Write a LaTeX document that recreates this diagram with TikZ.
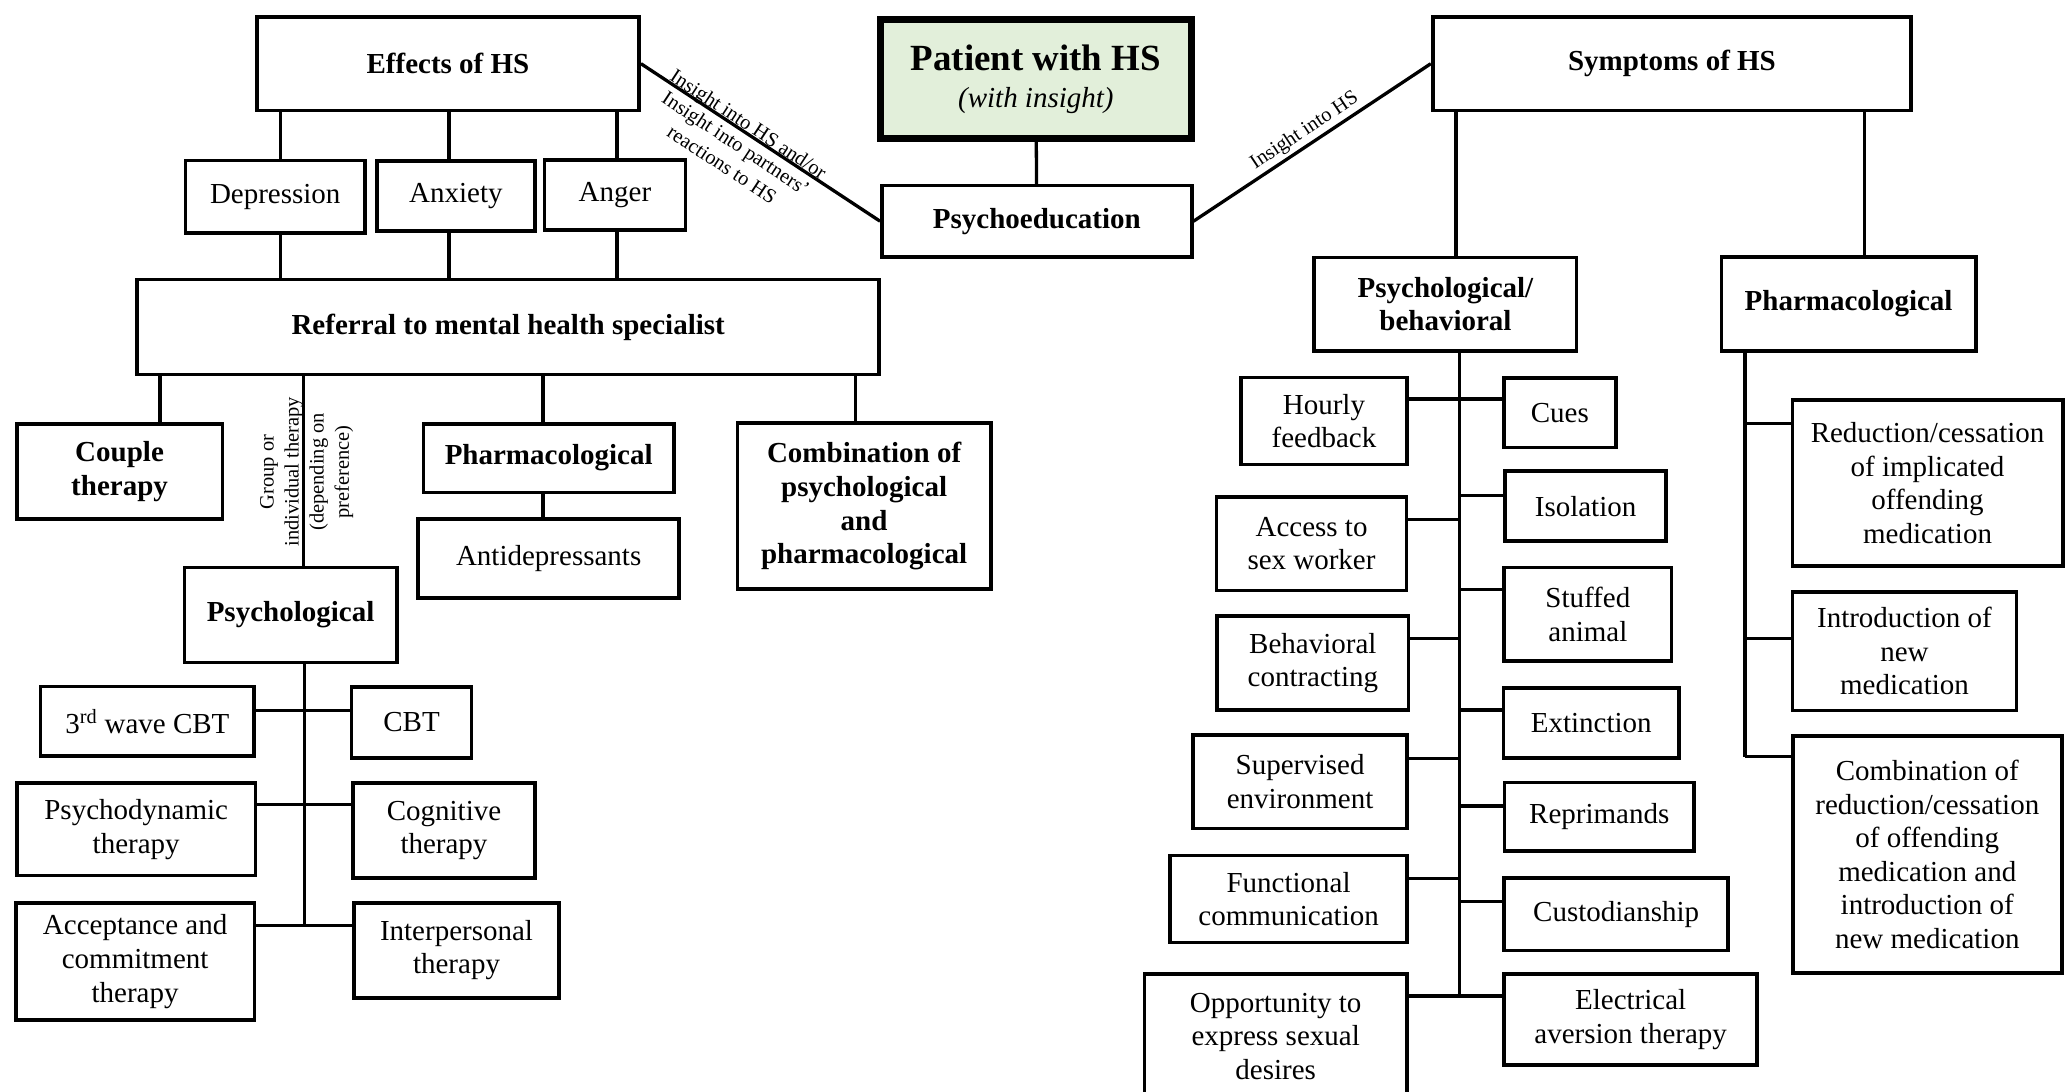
\documentclass[tikz,border=0pt]{standalone}
\usepackage{fontspec}
\setmainfont{Liberation Serif}
\definecolor{patgreen}{RGB}{226,239,218}
\newcommand{\mainfs}{\fontsize{22pt}{25.5pt}\selectfont}
\newcommand{\notefs}{\fontsize{15.5pt}{19pt}\selectfont}
\tikzset{
  box/.style={draw,line width=2.8pt,align=center,inner sep=0pt,font=\mainfs},
  hbox/.style={box,font=\mainfs\bfseries},
  wh/.style 2 args={minimum width=#1pt,minimum height=#2pt},
  link/.style={line width=2.5pt},
  note/.style={font=\notefs,align=center,inner sep=1pt},
}

\begin{document}
\begin{tikzpicture}[x=1pt,y=-1pt]
  \useasboundingbox (0,0) rectangle (1568,828);
  % top row
  \node[hbox,wh={290}{71}] (eff) at (339.8,48.3) {Effects of HS};
  \node[box,wh={236}{90},line width=5pt,fill=patgreen] (pat) at (785.8,60)
    {{\fontsize{28pt}{30pt}\selectfont\bfseries Patient with HS}\\[3pt]\textit{(with insight)}};
  \node[hbox,wh={363}{71}] (sym) at (1268.3,48.3) {Symptoms of HS};
  \node[hbox,wh={235}{54}] (psy) at (786.5,167.8) {Psychoeducation};
  % effects of HS
  \node[box,wh={136}{55}] (dep) at (208.8,149.3) {Depression};
  \node[box,wh={120}{53}] (anx) at (345.8,148.5) {Anxiety};
  \node[box,wh={107}{53}] (ang) at (466.5,147.8) {Anger};
  \node[hbox,wh={563}{72}] (ref) at (385.5,248) {Referral to mental health specialist};
  \node[hbox,wh={156}{72}] (cpl) at (90.7,357.8) {Couple\\therapy};
  \node[hbox,wh={190}{52}] (phl) at (416.2,347.5) {Pharmacological};
  \node[box,wh={198}{60}] (adp) at (416.2,423.5) {Antidepressants};
  \node[hbox,wh={192}{126}] (cmb) at (655.5,384) {Combination of\\psychological\\and\\pharmacological};
  \node[hbox,wh={161}{72}] (pyl) at (220.4,466.6) {Psychological};
  \node[box,wh={162}{53}] (t1) at (111.8,547.2) {3\textsuperscript{rd} wave CBT};
  \node[box,wh={91}{54}] (t2) at (312.2,548) {CBT};
  \node[box,wh={181}{70}] (t3) at (103.3,629.2) {Psychodynamic\\therapy};
  \node[box,wh={138}{72}] (t4) at (336.8,630) {Cognitive\\therapy};
  \node[box,wh={181}{89}] (t5) at (102.5,729.5) {Acceptance and\\commitment\\therapy};
  \node[box,wh={156}{72}] (t6) at (346.3,720.8) {Interpersonal\\therapy};
  % symptoms of HS
  \node[hbox,wh={199}{71}] (pbh) at (1096.5,230.8) {Psychological/\\behavioral};
  \node[hbox,wh={193}{71}] (phr) at (1402.3,230.5) {Pharmacological};
  \node[box,wh={126}{66}] (b1) at (1004.3,319.3) {Hourly\\feedback};
  \node[box,wh={144}{71}] (b2) at (994.9,412.4) {Access to\\sex worker};
  \node[box,wh={145}{71}] (b3) at (995.9,503) {Behavioral\\contracting};
  \node[box,wh={162}{71}] (b4) at (986.2,592.9) {Supervised\\environment};
  \node[box,wh={180}{66}] (b5) at (977.5,681.9) {Functional\\communication};
  \node[box,wh={199}{94}] (b6) at (967.7,786) {Opportunity to\\express sexual\\desires};
  \node[box,wh={85}{53}] (r1) at (1183.3,313) {Cues};
  \node[box,wh={122}{53}] (r2) at (1202.8,383.9) {Isolation};
  \node[box,wh={127}{71}] (r3) at (1204.5,466.1) {Stuffed\\animal};
  \node[box,wh={133}{53}] (r4) at (1207.1,548.4) {Extinction};
  \node[box,wh={144}{52}] (r5) at (1213.2,619.6) {Reprimands};
  \node[box,wh={170}{55}] (r6) at (1226,693.5) {Custodianship};
  \node[box,wh={192}{69}] (r7) at (1237,773.4) {Electrical\\aversion therapy};
  \node[box,wh={205}{126}] (p1) at (1462.2,366.5) {Reduction/cessation\\of implicated\\offending\\medication};
  \node[box,wh={170}{90}] (p2) at (1444.7,494) {Introduction of\\new\\medication};
  \node[box,wh={204}{180}] (p3) at (1462,648.2)
    {Combination of\\reduction/cessation\\of offending\\medication and\\introduction of\\new medication};

  % trunk ends
  \coordinate (ktr) at (230.8,702);
  \coordinate (btr) at (1107.2,755.5);
  \coordinate (ptr) at (1323.8,574);

  % links, left half
  \foreach \n/\x in {dep/213,anx/340.6,ang/468}{
    \draw[link] (eff.south -| \x,0) -- (\n.north -| \x,0);
    \draw[link] (\n.south -| \x,0) -- (ref.north -| \x,0);
  }
  \draw[link] (pat) -- (psy);
  \draw[link] (eff.east) --
    node[note,sloped,pos=0.43,anchor=base,yshift=1.5pt] {Insight into HS and/or}
    node[note,sloped,pos=0.43,below=3pt] {Insight into partners'\\reactions to HS} (psy.west);
  \draw[link] (psy.east) -- node[note,sloped,pos=0.5,above=1pt] {Insight into HS} (sym.west);
  \draw[link] (ref.south -| 121.4,0) -- (cpl.north -| 121.4,0);
  \draw[link] (ref.south -| 230,0) -- (pyl.north -| 230,0);
  \node[note,rotate=90] (grp) at (232.6,358) {Group or\\individual therapy\\(depending on\\preference)};
  \draw[link] (ref.south -| 412,0) -- (phl.north -| 412,0);
  \draw[link] (phl.south -| 412,0) -- (adp.north -| 412,0);
  \draw[link] (ref.south -| 649,0) -- (cmb.north -| 649,0);
  \draw[link] (pyl.south -| ktr) -- (ktr);
  \draw[link] (t1.east |- 0,539) -- (t2.west |- 0,539);
  \draw[link] (t3.east |- 0,610.5) -- (t4.west |- 0,610.5);
  \draw[link] (t5.east |- 0,702) -- (t6.west |- 0,702);

  % links, right half
  \draw[link] (sym.south -| 1104.5,0) -- (pbh.north -| 1104.5,0);
  \draw[link] (sym.south -| 1414.6,0) -- (phr.north -| 1414.6,0);
  \draw[link] (pbh.south -| btr) -- (btr);
  \draw[link] (b1.east |- 0,302.6) -- (r1.west |- 0,302.6);
  \draw[link] (b6.east |- btr) -- (r7.west |- btr);
  \foreach \n/\y in {b2/394.3,b3/484.2,b4/575.2,b5/666.2}
    \draw[link] (\n.east |- 0,\y) -- (btr |- 0,\y);
  \foreach \n/\y in {r2/375.8,r3/447.4,r4/538.6,r5/611.3,r6/683.9}
    \draw[link] (btr |- 0,\y) -- (\n.west |- 0,\y);
  \draw[link] (phr.south -| ptr) -- (ptr);
  \foreach \n/\y in {p1/321,p2/484.3,p3/574}
    \draw[link] (ptr |- 0,\y) -- (\n.west |- 0,\y);
\end{tikzpicture}
\end{document}
